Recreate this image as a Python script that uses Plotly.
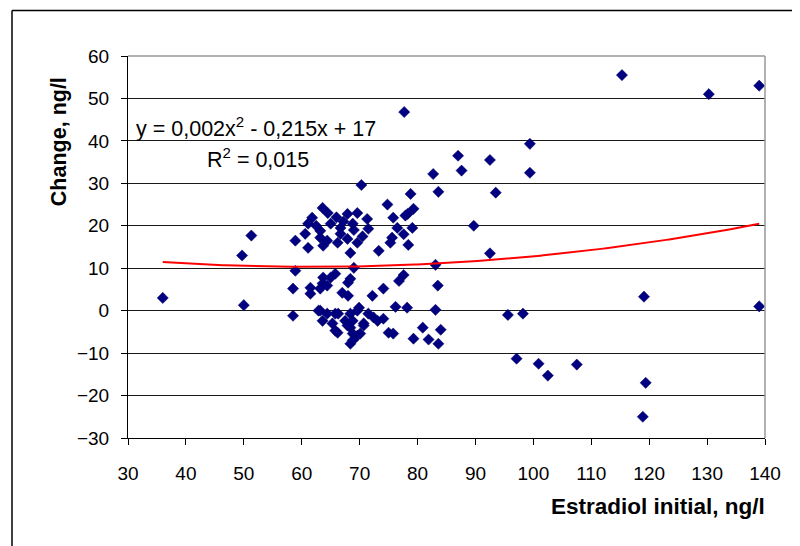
import numpy as np
import plotly.graph_objects as go

# Data
estradiol_initial = [
    36, 49.7, 50, 51.3, 77.7, 87, 87.6, 92.5, 93.5, 99.4, 99.4, 89.7, 92.5, 82.7,
    83.6, 78.8, 79.3, 78.3, 79.1, 77.6, 78.4, 83.1, 77.6, 83.5, 78.2, 83.1, 95.6,
    98.2, 80.9, 79.3, 81.9, 84, 83.6, 97.1, 100.9, 102.5, 107.5, 115.3, 130.3, 139,
    119.1, 119.4, 118.9, 139,
    70.3, 74.8, 77.9, 75.8, 63.6, 64.5, 61.8, 61.1, 67.9, 69.6, 71.3, 68.8, 66.7,
    65, 63.2, 60.6, 58.9, 61.1, 63.7, 66.2, 67.9, 69.6, 71.5, 68.4, 73.3, 76.5,
    75.6, 69.0, 58.9, 65, 63.6, 68.4, 67, 61.5, 58.5, 76.8, 68, 72.2, 74.1, 63.2,
    65.8, 58.5, 68.4, 69.9, 76.2, 65.3, 67.5, 70.7, 72.4, 74.1, 66.2, 68.4, 68.4,
    68.8, 70.1, 75, 75.8,
    66.7, 63.2, 67.2, 75.3, 64.4, 62.5, 66.0, 69.0, 70.5,
    63.7, 65.8, 68, 64.4, 61.5, 63.2, 62.9, 64.4, 66.3, 69.6, 63.6, 65.8, 67.9,
    68.8, 69.6, 68.8, 70.7, 73.1, 71.5,
]
change = [
    3, 13, 1.3, 17.7, 46.8, 36.5, 33, 35.5, 27.8, 39.3, 32.5, 20, 13.5, 32.2,
    28, 27.5, 24, 22.8, 19.5, 18, 15.5, 10.8, 8.4, 5.9, 0.7, 0.2, -1,
    -0.7, -4, -6.6, -6.8, -4.5, -7.8, -11.3, -12.5, -15.3, -12.7, 55.5, 51, 53,
    3.3, -17, -25, 1,
    29.6, 25, 22.4, 21.9, 24.2, 23, 21.9, 20.5, 22.8, 23, 21.6, 20.5, 19.5,
    20.5, 18.8, 18.1, 16.5, 14.8, 15.3, 16, 16.9, 16, 19.3, 13.6, 14.1, 19.5,
    17.2, 10.1, 9.4, 7.8, 6.4, 7.5, 4.2, 5.4, 5.2, 7.0, 3.5, 3.5, 5.2, 0,
    -0.7, -1.2, -0.7, 0.7, 0.9, -3, -2.4, -3, -1.6, -1.9, -5.2, -4, -7.8,
    -5.4, -5.4, -5.2, -5.4,
    18.1, 17.2, 21.0, 16, 16.5, 20.0, 22.0, 19.0, 17.5,
    7.8, 8.7, 6.6, 5.9, 4, 5.2, 0, -0.7, -0.7, 0, -2.4, -4.7, -3.5,
    -2.4, -5.9, -7, -3.5, -2.4, -0.7,
]
# Polynomial trendline coefficients (a, b, c) as drawn in the picture
trend_coeffs = [0.0017, -0.21, 16.8]
x_ticks = list(range(30, 141, 10))
y_ticks = list(range(-30, 61, 10))

trend_x = np.linspace(min(estradiol_initial), max(estradiol_initial), 200)
trend_y = np.polyval(trend_coeffs, trend_x)

fig = go.Figure()
fig.add_trace(go.Scatter(
    x=estradiol_initial, y=change, mode="markers",
    marker=dict(symbol="diamond", size=8.6, color="#000080",
                line=dict(width=0.5, color="#000060")),
    showlegend=False, hoverinfo="x+y",
))
fig.add_trace(go.Scatter(
    x=trend_x, y=trend_y, mode="lines",
    line=dict(color="#ff0000", width=2), showlegend=False, hoverinfo="skip",
))

tick_font = dict(family="Liberation Sans, Arial, sans-serif", size=19, color="#000")
fig.update_layout(
    width=792, height=538,
    margin=dict(l=120, r=35, t=48, b=108),
    paper_bgcolor="white", plot_bgcolor="white",
    xaxis=dict(range=[30, 140], tickvals=x_ticks, showgrid=False, zeroline=False,
               showline=True, linecolor="#000", linewidth=1,
               ticks="outside", ticklen=6, tickcolor="#000",
               tickfont=tick_font, ticklabelstandoff=12),
    yaxis=dict(range=[-30, 60], tickvals=y_ticks, showgrid=True, gridcolor="#1a1a1a",
               gridwidth=1, zeroline=False,
               showline=True, linecolor="#000", linewidth=1,
               ticks="outside", ticklen=6, tickcolor="#000",
               tickfont=tick_font, ticklabelstandoff=8),
    font=dict(family="Liberation Sans, Arial, sans-serif", color="#000"),
)

# plot area border (top, right) in gray, outer chart frame
fig.add_shape(type="line", xref="paper", yref="paper", x0=0, x1=1, y0=1, y1=1,
              line=dict(color="#999", width=1.5))
fig.add_shape(type="line", xref="paper", yref="paper", x0=1, x1=1, y0=0, y1=1,
              line=dict(color="#999", width=1.5))
fig.add_shape(type="line", xref="paper", yref="paper", x0=-0.1821, x1=-0.1821,
              y0=-0.35, y1=1.1191, line=dict(color="#000", width=1.5))
fig.add_shape(type="line", xref="paper", yref="paper", x0=-0.1821, x1=1.1,
              y0=1.1191, y1=1.1191, line=dict(color="#000", width=1.5))

fig.add_annotation(text="<b>Estradiol initial, ng/l</b>", xref="paper", yref="paper",
                   x=1.003, y=-0.180, xanchor="right", yanchor="middle",
                   showarrow=False,
                   font=dict(family="Liberation Sans, Arial, sans-serif", size=22.5, color="#000"))
fig.add_annotation(text="<b>Change, ng/l</b>", xref="paper", yref="paper",
                   x=-0.108, y=0.775, xanchor="center", yanchor="middle",
                   textangle=-90, showarrow=False,
                   font=dict(family="Liberation Sans, Arial, sans-serif", size=21.5, color="#000"))

eq_font = dict(family="Liberation Sans, Arial, sans-serif", size=21.5, color="#000")
fig.add_annotation(text="y = 0,002x<sup>2</sup> - 0,215x + 17", xref="paper", yref="paper",
                   x=0.2017, y=0.814, xanchor="center", yanchor="middle",
                   showarrow=False, font=eq_font)
fig.add_annotation(text="R<sup>2</sup> = 0,015", xref="paper", yref="paper",
                   x=0.204, y=0.733, xanchor="center", yanchor="middle",
                   showarrow=False, font=eq_font)

fig.write_html("out.html")
